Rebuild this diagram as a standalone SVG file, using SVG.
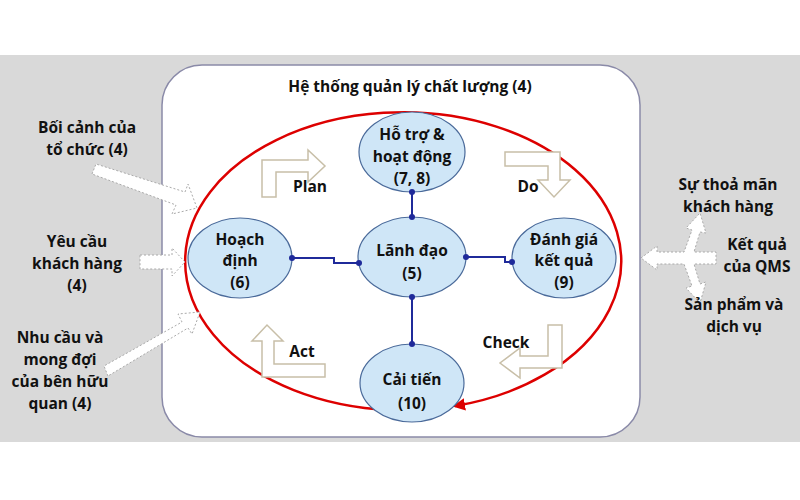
<svg xmlns="http://www.w3.org/2000/svg" width="800" height="500" viewBox="0 0 800 500">
<defs>
<style>
.t{font-family:"Open Sans","Liberation Sans",sans-serif;font-weight:bold;font-size:15.5px;fill:#111;text-anchor:middle}
.n{fill:#cfe6f7;stroke:#4a6a9a;stroke-width:1.2}
.c{fill:none;stroke:#1f2a9a;stroke-width:2}
.p{fill:#fff;stroke:#c8bfa8;stroke-width:1.5}
.i{fill:#fff;stroke:#aaa;stroke-width:1;stroke-dasharray:2 2}
</style>
<marker id="d" viewBox="0 0 6 6" refX="3" refY="3" markerWidth="3" markerHeight="3" orient="auto"><circle cx="3" cy="3" r="3" fill="#1f2a9a"/></marker>
<marker id="r" viewBox="0 0 10 10" refX="8" refY="5" markerWidth="5" markerHeight="5" orient="auto"><path d="M0 0L10 5L0 10z" fill="#d00"/></marker>
</defs>
<rect width="800" height="500" fill="#fff"/>
<rect x="0" y="55" width="800" height="387" fill="#d9d9d9"/>
<rect x="162" y="65" width="478" height="372" rx="40" fill="#fff" stroke="#8a8aa8" stroke-width="1.5"/>
<path d="M390 410 A218 149 0 1 1 455 406" fill="none" stroke="#d00" stroke-width="2.5" marker-end="url(#r)"/>
<text class="t" x="410" y="92">Hệ thống quản lý chất lượng (4)</text>
<g id="inputs">
<polygon class="i" points="92,174 96,164 185,192 188,184 197,208 172,214 176,205" />
<polygon class="i" points="140,255 172,255 172,248 185,262 172,276 172,269 140,269"/>
<polygon class="i" points="108,376 104,366 182,322 178,314 200,312 192,334 188,328"/>
<polygon class="i" points="641,258 657,246 657,252 684,252 692,230 686,228 700,213 706,233 700,232 694,252 716,252 716,264 694,264 700,284 706,282 700,303 686,288 692,286 684,264 657,264 657,270"/>
</g>
<g id="pdca">
<path class="p" d="M262 197 V160 H308 V150 L325 166 L308 182 V172 H276 V197 Z"/>
<path class="p" d="M505 152 H560 V180 H570 L554 197 L538 180 H548 V166 H505 Z"/>
<path class="p" d="M562 325 V368 H520 V378 L500 363 L520 348 V356 H548 V325 Z"/>
<path class="p" d="M325 377 H262 V341 H252 L267 325 L283 341 H274 V364 H325 Z"/>
<text class="t" x="310" y="192">Plan</text>
<text class="t" x="528" y="192">Do</text>
<text class="t" x="506" y="348">Check</text>
<text class="t" x="302" y="357">Act</text>
</g>
<g id="n-ho-tro"><ellipse class="n" cx="412" cy="152" rx="53" ry="40"/>
<text class="t" x="412" y="140">Hỗ trợ &amp;</text><text class="t" x="412" y="162">hoạt động</text><text class="t" x="412" y="184">(7, 8)</text></g>
<g id="n-lanh-dao"><ellipse class="n" cx="412" cy="257" rx="54" ry="40"/>
<text class="t" x="412" y="256">Lãnh đạo</text><text class="t" x="412" y="279">(5)</text></g>
<g id="n-hoach-dinh"><ellipse class="n" cx="240" cy="258" rx="52" ry="40"/>
<text class="t" x="240" y="245">Hoạch</text><text class="t" x="240" y="266">định</text><text class="t" x="240" y="288">(6)</text></g>
<g id="n-danh-gia"><ellipse class="n" cx="564" cy="258" rx="52" ry="40"/>
<text class="t" x="564" y="245">Đánh giá</text><text class="t" x="564" y="266">kết quả</text><text class="t" x="564" y="288">(9)</text></g>
<g id="n-cai-tien"><ellipse class="n" cx="412" cy="383" rx="52" ry="39"/>
<text class="t" x="412" y="385">Cải tiến</text><text class="t" x="412" y="409">(10)</text></g>
<g id="connectors">
<path class="c" d="M412 192 V217" marker-start="url(#d)" marker-end="url(#d)"/>
<path class="c" d="M292 258 H334 V263 H359" marker-start="url(#d)" marker-end="url(#d)"/>
<path class="c" d="M466 257 H505 V262 H512" marker-start="url(#d)" marker-end="url(#d)"/>
<path class="c" d="M412 297 V344" marker-start="url(#d)" marker-end="url(#d)"/>
</g>
<g id="labels">
<text class="t" x="87" y="133">Bối cảnh của</text><text class="t" x="87" y="155">tổ chức (4)</text>
<text class="t" x="77" y="247">Yêu cầu</text><text class="t" x="77" y="269">khách hàng</text><text class="t" x="77" y="291">(4)</text>
<text class="t" x="60" y="343">Nhu cầu và</text><text class="t" x="60" y="365">mong đợi</text><text class="t" x="60" y="387">của bên hữu</text><text class="t" x="60" y="409">quan (4)</text>
<text class="t" x="728" y="190">Sự thoả mãn</text><text class="t" x="728" y="212">khách hàng</text>
<text class="t" x="757" y="250">Kết quả</text><text class="t" x="757" y="272">của QMS</text>
<text class="t" x="734" y="310">Sản phẩm và</text><text class="t" x="734" y="332">dịch vụ</text>
</g>
</svg>
